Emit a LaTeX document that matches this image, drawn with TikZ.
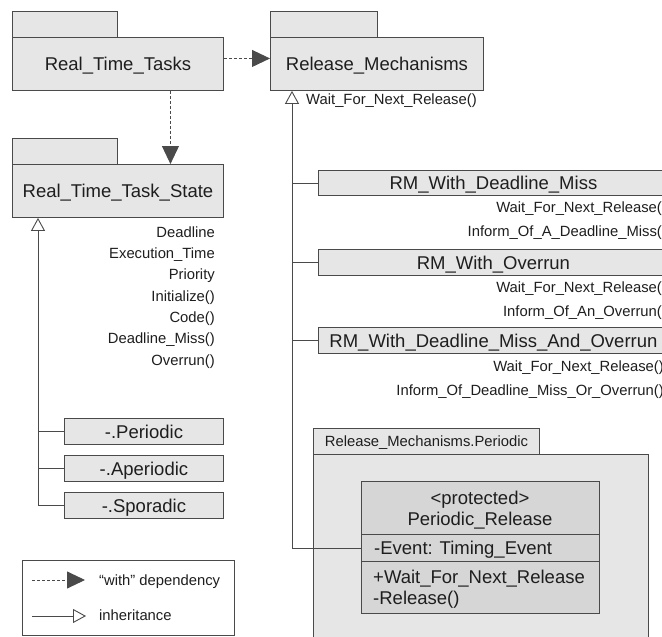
\documentclass[tikz,border=0pt]{standalone}
\usepackage{fontspec}
\setmainfont{Liberation Sans}
\usetikzlibrary{arrows.meta}
\definecolor{linec}{HTML}{4A4A4A}
\definecolor{pkgfill}{HTML}{E6E6E6}
\definecolor{clsfill}{HTML}{D6D6D6}
\definecolor{txt}{HTML}{1E1E1E}
\newcommand{\bigf}{\fontsize{18.5}{22}\selectfont}
\newcommand{\smallf}{\fontsize{14.8}{18}\selectfont}
\begin{document}
\begin{tikzpicture}[x=1pt,y=-1pt,
  ln/.style={draw=linec, line width=0.9pt},
  box/.style={ln, anchor=north west, inner sep=0pt, fill=pkgfill},
  clsbox/.style={ln, anchor=north west, inner sep=0pt, fill=clsfill},
  bigtxt/.style={font=\bigf, text=txt, text height=13.2pt, text depth=0pt},
  smtxt/.style={font=\smallf, text=txt, text height=10.6pt, text depth=0pt, inner sep=0pt},
  clstxt/.style={font=\bigf, text=txt, text height=13.2pt, text depth=0pt, inner sep=0pt},
  dep/.style={ln, dash pattern=on 3pt off 2pt, -{Triangle[length=18pt,width=17pt,fill=linec]}},
  inh/.style={ln, -{Triangle[length=13pt,width=14pt,fill=white]}},
]
\fill[white] (0,0) rectangle (662,637);
\useasboundingbox (0,0) rectangle (662,637);
\clip (0,0) rectangle (662,637);

% Real_Time_Tasks
\node[box, minimum width=105pt, minimum height=26pt] (rttTab) at (12,11) {};
\node[box, bigtxt, minimum width=211pt, minimum height=53pt] (rtt) at (12,37) {Real\_Time\_Tasks};
% Release_Mechanisms
\node[box, minimum width=107pt, minimum height=26pt] (rmTab) at (270,11) {};
\node[box, bigtxt, minimum width=213pt, minimum height=53pt] (rm) at (270,37) {Release\_Mechanisms};
\node[smtxt, anchor=west] (rmop) at (306,99) {Wait\_For\_Next\_Release()};
% Real_Time_Task_State
\node[box, minimum width=105pt, minimum height=26pt] (rtsTab) at (12,138) {};
\node[box, bigtxt, minimum width=211pt, minimum height=53pt] (rts) at (12,164) {Real\_Time\_Task\_State};

\node[smtxt, anchor=east] (a0) at (215,232) {Deadline};
\node[smtxt, anchor=east] (a1) at (215,253.3) {Execution\_Time};
\node[smtxt, anchor=east] (a2) at (215,274.6) {Priority};
\node[smtxt, anchor=east] (a3) at (215,295.9) {Initialize()};
\node[smtxt, anchor=east] (a4) at (215,317.2) {Code()};
\node[smtxt, anchor=east] (a5) at (215,338.5) {Deadline\_Miss()};
\node[smtxt, anchor=east] (a6) at (215,359.8) {Overrun()};

% dependencies
\draw[dep] ([yshift=5.5pt]rtt.east) -- ([yshift=5.5pt]rm.west);
\draw[dep] ([xshift=52.5pt]rtt.south) -- ([xshift=52.5pt]rts.north);

% subclasses of Real_Time_Task_State
\node[box, bigtxt, minimum width=159pt, minimum height=26pt] (per) at (64,418) {-.Periodic};
\node[box, bigtxt, minimum width=159pt, minimum height=26pt] (aper) at (64,455) {-.Aperiodic};
\node[box, bigtxt, minimum width=159pt, minimum height=26pt] (spor) at (64,492) {-.Sporadic};
\coordinate (rtsj) at (38,505);
\draw[ln] (per.west) -- (per.west -| rtsj);
\draw[ln] (aper.west) -- (aper.west -| rtsj);
\draw[inh] (spor.west) -- (spor.west -| rtsj) -- (rtsj |- rts.south);

% RM children
\node[box, bigtxt, minimum width=350pt, minimum height=25pt] (rm1) at (318,170) {RM\_With\_Deadline\_Miss};
\node[smtxt, anchor=east] (rm1a) at (667,207.5) {Wait\_For\_Next\_Release()};
\node[smtxt, anchor=east] (rm1b) at (667,231) {Inform\_Of\_A\_Deadline\_Miss()};
\node[box, bigtxt, minimum width=350pt, minimum height=26pt] (rm2) at (318,249) {RM\_With\_Overrun};
\node[smtxt, anchor=east] (rm2a) at (667,287.5) {Wait\_For\_Next\_Release()};
\node[smtxt, anchor=east] (rm2b) at (667,311) {Inform\_Of\_An\_Overrun()};
\node[box, bigtxt, minimum width=350pt, minimum height=26pt] (rm3) at (318,327) {RM\_With\_Deadline\_Miss\_And\_Overrun};
\node[smtxt, anchor=east] (rm3a) at (664,366.5) {Wait\_For\_Next\_Release()};
\node[smtxt, anchor=east] (rm3b) at (664,390) {Inform\_Of\_Deadline\_Miss\_Or\_Overrun()};

% Release_Mechanisms.Periodic package
\node[box, smtxt, minimum width=226pt, minimum height=26pt] (rpTab) at (313,428) {Release\_Mechanisms.Periodic};
\node[box, minimum width=335pt, minimum height=200pt] (rp) at (313,454) {};
\node[clsbox, minimum width=238pt, minimum height=53pt] (clsHead) at (361,481) {};
\node[clsbox, minimum width=238pt, minimum height=27pt] (clsAttr) at (361,534) {};
\node[clsbox, minimum width=238pt, minimum height=52pt] (clsOps) at (361,561) {};
\node[clstxt] (st) at (480,498) {<protected>};
\node[clstxt] (cn) at (480,518.5) {Periodic\_Release};
\node[clstxt, anchor=west] (at1) at (374,548) {-Event: Timing\_Event};
\node[clstxt, anchor=west] (op1) at (373,577) {+Wait\_For\_Next\_Release};
\node[clstxt, anchor=west] (op2) at (373,597.5) {-Release()};

% inheritance to Release_Mechanisms
\coordinate (rmj) at (292,548);
\draw[ln] (rm1.west) -- (rm1.west -| rmj);
\draw[ln] (rm2.west) -- (rm2.west -| rmj);
\draw[ln] (rm3.west) -- (rm3.west -| rmj);
\draw[inh] (clsAttr.west) -- (clsAttr.west -| rmj) -- (rmj |- rm.south);

% legend
\node[ln, fill=white, anchor=north west, minimum width=212pt, minimum height=75pt, inner sep=0pt] (leg) at (22,560) {};
\coordinate (la1) at (32,580);
\coordinate (la2) at (85,580);
\draw[dep] (la1) -- (la2);
\coordinate (lb1) at (32,616);
\coordinate (lb2) at (86,616);
\draw[inh] (lb1) -- (lb2);
\node[smtxt, anchor=west] (lt1) at (99,580) {“with” dependency};
\node[smtxt, anchor=west] (lt2) at (99,615) {inheritance};
\end{tikzpicture}
\end{document}
